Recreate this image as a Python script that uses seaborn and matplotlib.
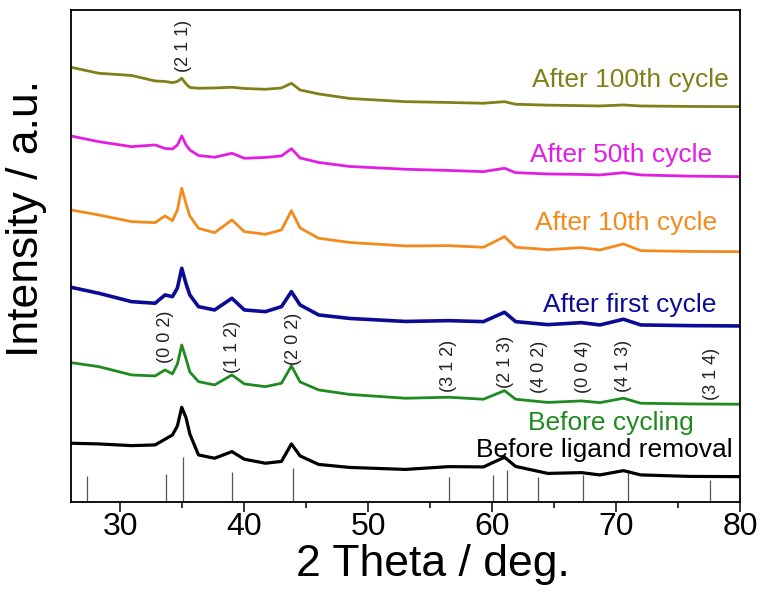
#!/usr/bin/env python3
"""
XRD patterns of the electrode before and after cycling, stacked with offsets.
"""

import numpy as np
import pandas as pd
import matplotlib
matplotlib.use("Agg")
import matplotlib.pyplot as plt
from matplotlib.ticker import MultipleLocator
import seaborn as sns

# 2 theta sampling points (deg) shared by all patterns
two_theta = [26, 28.25, 30.9, 32.8, 33.6, 34.2, 34.6, 34.95, 35.3, 35.6,
             36.3, 37.6, 39.0, 40.0, 41.7, 43.0, 43.8, 44.5, 46.0, 48.5,
             53.0, 56.5, 59.3, 61.0, 61.9, 64.5, 67.2, 68.7, 70.6, 72.0,
             76.0, 80.0]

# stacked intensities (a.u.), offsets included
before_ligand = [58.7, 58, 56.3, 57, 62.7, 67, 76, 94.7, 84, 68,
                 47, 43.7, 50.3, 42.7, 38.7, 40.5, 58, 46, 37.5, 34.5,
                 32.5, 35.3, 35, 44.7, 35.5, 28.5, 29.3, 27, 31.3, 27,
                 25.5, 25.3]
before_cycling = [139.3, 135.3, 127, 126, 132, 128, 138, 157, 143, 130,
                  120.3, 117, 127, 118, 115.3, 118.7, 136, 120, 112, 107.5,
                  103.7, 104.7, 102.7, 111.3, 102.7, 99.5, 101, 99.3, 103.7, 98.7,
                  98, 97.7]
after_first = [214.7, 208.7, 200.3, 198.7, 207, 205.3, 214, 233.7, 218, 207,
               195.3, 192, 203.7, 192, 190.3, 195.3, 210.3, 197, 187, 183.5,
               180.5, 181.3, 180.3, 189.7, 180.3, 177.3, 179.3, 177, 182.7, 177,
               176.3, 176]
after_10th = [292, 287, 280.3, 279.3, 286, 281.3, 292, 313.7, 298, 286,
              273.7, 269.3, 282, 270.3, 267.7, 272, 291.3, 274, 263.7, 259.5,
              256, 256.3, 254.7, 265.3, 254.7, 252.3, 254.3, 252, 258, 251.3,
              250.5, 250.3]
after_50th = [366, 360.3, 355.3, 357, 353.5, 353, 357, 366, 357, 352,
              346.5, 344.7, 348.7, 343.7, 344.5, 346, 353.3, 344, 339.5, 335.5,
              332.7, 331.5, 330.3, 333.7, 329.3, 328, 327.5, 327, 329.3, 327,
              325.8, 325.3]
after_100th = [434.7, 428.7, 426.5, 421, 420.5, 419.3, 420.5, 423.7, 418, 414.5,
               413.7, 414, 414.7, 413.5, 412.7, 414, 418.7, 412, 408, 403.5,
               400.3, 399.5, 398.7, 400.3, 397.7, 396.8, 396.3, 396, 397, 396,
               395.5, 395.3]

sample_names = ["Before ligand removal", "Before cycling", "After first cycle",
                "After 10th cycle", "After 50th cycle", "After 100th cycle"]
sample_values = [before_ligand, before_cycling, after_first,
                 after_10th, after_50th, after_100th]

# reference pattern (stick positions and heights)
ref_pos = [27.3, 33.7, 35.05, 39.03, 43.9, 56.54, 60.1, 61.18, 63.74, 67.3, 70.97, 77.6]
ref_int = [26, 28, 45, 30, 34, 25, 27, 32, 25, 27, 32, 22]

# Miller indices
hkl_labels = ["(2 1 1)", "(0 0 2)", "(1 1 2)", "(2 0 2)", "(3 1 2)", "(2 1 3)",
              "(4 0 2)", "(0 0 4)", "(4 1 3)", "(3 1 4)"]
hkl_pos = [35.13, 33.6, 39.08, 44.0, 56.52, 61.07, 63.8, 67.37, 70.6, 77.67]

# layout / style
colors = {
    "Before ligand removal": "#000000",
    "Before cycling": "#1f8a1f",
    "After first cycle": "#0b0b96",
    "After 10th cycle": "#f28a1c",
    "After 50th cycle": "#e31ee3",
    "After 100th cycle": "#808019",
}
widths = {
    "Before ligand removal": 2.3,
    "Before cycling": 2.0,
    "After first cycle": 2.6,
    "After 10th cycle": 2.0,
    "After 50th cycle": 2.0,
    "After 100th cycle": 2.0,
}
name_xy = {
    "Before ligand removal": (79.4, 45.3),
    "Before cycling": (76.24, 72),
    "After first cycle": (78.1, 189.7),
    "After 10th cycle": (78.18, 272),
    "After 50th cycle": (77.78, 340.3),
    "After 100th cycle": (79.07, 415.3),
}
hkl_y = [430, 138.7, 129.3, 137, 110.3, 113.7, 109.3, 109.3, 110.3, 102]

sns.set_style("ticks")
plt.rcParams["font.family"] = ["Liberation Sans", "DejaVu Sans"]
plt.rcParams["axes.labelcolor"] = "black"
plt.rcParams["text.color"] = "black"

df = pd.DataFrame({
    "two_theta": np.tile(two_theta, len(sample_names)),
    "intensity": np.concatenate(sample_values),
    "sample": np.repeat(sample_names, len(two_theta)),
})

fig = plt.figure(figsize=(7.62, 6.04), dpi=100)
ax = fig.add_axes([0.093, 0.169, 0.878, 0.8145])

ax.vlines(ref_pos, 0, ref_int, color="#555555", lw=0.9)

for name in sample_names:
    sns.lineplot(data=df[df["sample"] == name], x="two_theta", y="intensity",
                 color=colors[name], estimator=None, sort=False,
                 lw=widths[name], ax=ax)
    x, y = name_xy[name]
    ax.text(x, y, name, color=colors[name], fontsize=19,
            ha="right", va="baseline")

for lab, x, y in zip(hkl_labels, hkl_pos, hkl_y):
    ax.text(x, y, lab, rotation=90, fontsize=13, color="#222222",
            ha="center", va="bottom")

ax.set_xlim(26, 80)
ax.set_ylim(0, 492)
ax.set_yticks([])
ax.xaxis.set_major_locator(MultipleLocator(10))
ax.xaxis.set_minor_locator(MultipleLocator(5))
ax.tick_params(axis="x", which="major", direction="out", length=7,
               width=1.1, labelsize=23, pad=0, colors="black")
ax.tick_params(axis="x", which="minor", direction="out", length=4,
               width=1.1, colors="black")
for sp in ax.spines.values():
    sp.set_visible(True)
    sp.set_linewidth(1.3)
    sp.set_color("black")

ax.set_xlabel("2 Theta / deg.", fontsize=32, color="black")
ax.xaxis.set_label_coords(0.541, -0.086)
ax.set_ylabel("Intensity / a.u.", fontsize=32, color="black")
ax.yaxis.set_label_coords(-0.036, 0.577)

fig.savefig("out.png", dpi=100)
